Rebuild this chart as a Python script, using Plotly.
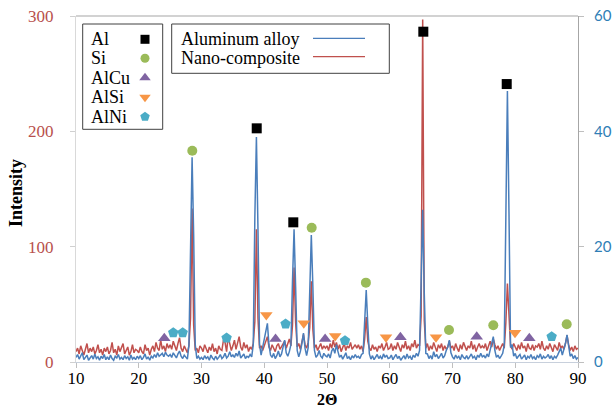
import numpy as np
import plotly.graph_objects as go

# ---------------- data ----------------
# 2-theta sample grid (degrees), 0.25 deg step
two_theta = np.round(np.arange(10, 90.001, 0.25), 2)

# Nano-composite intensity (left axis)
nano = [
    9, 12, 7, 14, 10, 6, 11, 16, 8, 12, 9, 13, 7, 10, 15, 8, 11, 6, 12, 9,
    13, 7, 10, 17, 8, 11, 6, 14, 9, 12, 16, 7, 10, 13, 6, 9, 15, 8, 11, 10,
    8, 13, 9, 7, 15, 10, 12, 6, 11, 14, 9, 17, 12, 10, 19, 11, 14, 9, 16, 12,
    15, 11, 18, 13, 10, 16, 21, 12, 9, 14, 11, 8, 14, 38, 133, 32, 10, 12, 8, 14,
    12, 9, 15, 11, 8, 13, 10, 16, 9, 12, 7, 14, 11, 10, 19, 17, 9, 22, 15, 10,
    14, 19, 11, 16, 22, 13, 10, 17, 12, 15, 9, 13, 11, 16, 35, 115, 38, 12, 14, 10,
    14, 17, 22, 13, 10, 15, 12, 9, 14, 16, 11, 13, 15, 18, 12, 16, 20, 14, 32, 82,
    34, 13, 16, 11, 18, 24, 15, 12, 17, 30, 70, 28, 12, 15, 10, 13, 16, 11, 14, 12,
    14, 10, 16, 12, 19, 13, 17, 11, 15, 9, 13, 16, 10, 14, 12, 17, 11, 13, 15, 12,
    15, 11, 14, 9, 20, 39, 18, 12, 10, 15, 11, 13, 9, 14, 12, 16, 10, 13, 17, 11,
    12, 16, 10, 14, 11, 17, 13, 9, 15, 12, 18, 11, 14, 10, 16, 13, 19, 12, 15, 14,
    40, 297, 36, 12, 16, 10, 14, 11, 17, 13, 9, 15, 12, 16, 10, 14, 11, 13, 18, 12,
    14, 10, 16, 12, 9, 15, 11, 17, 13, 10, 14, 12, 18, 11, 15, 9, 13, 16, 12, 14,
    12, 16, 10, 14, 18, 13, 20, 15, 11, 14, 10, 13, 16, 12, 34, 68, 42, 14, 11, 16,
    13, 10, 15, 11, 17, 12, 14, 9, 16, 12, 11, 15, 10, 14, 13, 16, 11, 18, 12, 10,
    14, 11, 16, 12, 9, 15, 13, 10, 17, 12, 14, 11, 16, 23, 15, 10, 13, 9, 14, 11,
    12,
]

# Aluminum alloy intensity (right axis)
alloy = [
    0.8, 1.3, 0.5, 1.0, 1.6, 0.4, 0.9, 1.2, 0.3, 0.7, 1.1, 0.5, 1.4, 0.6, 0.9, 0.3, 1.0, 0.6, 1.3, 0.4,
    0.9, 0.4, 1.2, 0.6, 0.3, 1.0, 0.7, 1.3, 0.5, 0.8, 0.4, 1.1, 0.6, 0.9, 0.3, 1.2, 0.5, 0.8, 0.4, 1.0,
    0.6, 1.1, 0.4, 0.8, 1.4, 0.5, 0.9, 0.3, 1.0, 0.7, 1.3, 0.8, 1.6, 1.0, 1.2, 1.5, 0.9, 1.7, 1.2, 1.0,
    1.3, 0.8, 1.6, 1.1, 0.7, 1.4, 1.9, 1.0, 0.6, 1.2, 0.9, 0.5, 3.0, 24, 35.5, 22, 3.0, 0.6, 1.0, 0.5,
    0.8, 0.4, 1.1, 0.6, 0.9, 0.3, 1.2, 0.7, 0.4, 1.0, 0.5, 0.8, 1.3, 0.6, 0.9, 1.5, 0.7, 1.0, 1.8, 0.9,
    1.2, 0.8, 1.5, 1.0, 1.9, 0.7, 1.1, 1.4, 0.6, 1.0, 0.8, 1.3, 0.9, 3.0, 25, 39, 23, 3.0, 1.2, 2.5,
    3.5, 5.2, 6.7, 3.0, 1.2, 0.8, 1.5, 0.6, 1.1, 1.9, 0.9, 1.4, 2.6, 3.8, 1.6, 1.0, 1.8, 3.0, 14, 23,
    13, 2.0, 0.9, 1.8, 3.2, 5.0, 2.4, 1.1, 2.5, 14, 22, 13, 2.0, 0.8, 1.2, 2.0, 1.0, 0.7, 1.5, 1.1,
    0.9, 1.4, 0.7, 1.9, 2.4, 1.5, 3.0, 1.8, 0.8, 1.2, 0.5, 1.0, 1.6, 0.6, 0.9, 0.4, 1.1, 0.7, 1.3, 0.8,
    1.0, 0.6, 1.3, 1.5, 7.0, 12.5, 6.5, 1.4, 0.5, 1.1, 0.4, 0.9, 1.3, 0.6, 1.0, 0.5, 1.4, 0.8, 1.2, 0.6,
    0.7, 1.2, 0.4, 0.9, 1.3, 0.6, 1.0, 0.3, 0.8, 1.1, 0.5, 1.4, 0.7, 1.0, 0.4, 1.2, 0.8, 1.5, 1.0, 2.0,
    14, 26.4, 12, 1.5, 1.4, 0.6, 1.1, 0.5, 1.8, 0.9, 1.3, 0.6, 1.0, 1.5, 0.7, 1.1, 2.0, 2.6, 3.8, 1.6,
    0.9, 0.5, 1.2, 0.7, 1.0, 0.4, 1.3, 0.8, 0.6, 1.1, 0.5, 0.9, 1.4, 0.7, 1.0, 0.4, 1.2, 0.8, 1.5, 0.9,
    1.1, 0.7, 1.4, 0.9, 2.2, 3.1, 4.4, 2.0, 0.8, 1.2, 0.6, 1.0, 1.5, 3.0, 28, 47, 26, 2.5, 3.0, 1.0,
    1.5, 0.6, 1.0, 1.3, 0.5, 0.9, 1.2, 0.4, 1.0, 0.7, 1.3, 0.6, 0.9, 0.4, 1.1, 0.8, 1.4, 0.5, 1.0, 0.7,
    0.9, 1.3, 0.6, 1.1, 0.4, 1.0, 0.7, 1.2, 1.8, 2.4, 1.2, 2.0, 3.2, 4.7, 2.8, 1.0, 1.4, 0.6, 1.1, 0.5,
    0.8,
]

# Phase markers (2-theta, left-axis intensity)
al_x = [38.8, 44.63, 65.35, 78.64]
al_y = [202.6, 121.1, 286.4, 241]
si_x = [28.53, 47.56, 56.2, 69.44, 76.5, 88.2]
si_y = [183.2, 116.4, 68.8, 27.7, 31.8, 32.7]
alcu_x = [24.07, 41.8, 49.7, 61.7, 73.86, 82.24]
alcu_y = [20.5, 19.9, 19.9, 21.4, 22, 20.5]
alsi_x = [40.33, 46.3, 51.3, 59.4, 67.37, 79.96]
alsi_y = [40.8, 33.6, 22.5, 21.4, 21.4, 25.4]
alni_x = [25.5, 27.0, 34.0, 43.4, 52.87, 85.8]
alni_y = [25.4, 25.4, 20.8, 33, 18.5, 22]

x_ticks = [10, 20, 30, 40, 50, 60, 70, 80, 90]
left_ticks = [0, 100, 200, 300]
right_ticks = [0, 20, 40, 60]

phase_names = ["Al", "Si", "AlCu", "AlSi", "AlNi"]
line_names = ["Aluminum alloy", "Nano-composite"]

# ---------------- styling ----------------
BLUE = "#4A7EBB"
RED = "#C0504D"
C_AL, C_SI, C_CU, C_SIA, C_NI = "#000000", "#9BBB59", "#8064A2", "#F79646", "#4BACC6"
SERIF = "Liberation Serif"

W, H = 615, 412
PL, PR, PT, PB = 76, 578, 16, 362


def px(x):
    return (x - PL) / (PR - PL)


def py(y):
    return (PB - y) / (PB - PT)


assert len(nano) == len(two_theta) and len(alloy) == len(two_theta)

fig = go.Figure()
fig.add_trace(go.Scatter(x=two_theta, y=nano, mode="lines", name=line_names[1],
                         line=dict(color=RED, width=1.5), yaxis="y"))
fig.add_trace(go.Scatter(x=two_theta, y=alloy, mode="lines", name=line_names[0],
                         line=dict(color=BLUE, width=1.5), yaxis="y2"))

phases = [
    (al_x, al_y, "square", C_AL, 10),
    (si_x, si_y, "circle", C_SI, 10),
    (alcu_x, alcu_y, "triangle-up", C_CU, 11),
    (alsi_x, alsi_y, "triangle-down", C_SIA, 11),
    (alni_x, alni_y, "pentagon", C_NI, 11),
]
for (xs, ys, sym, col, sz), nm in zip(phases, phase_names):
    fig.add_trace(go.Scatter(x=xs, y=ys, mode="markers", name=nm, yaxis="y3",
                             xaxis="x",
                             marker=dict(symbol=sym, color=col, size=sz, opacity=1,
                                         line=dict(width=0)),
                             cliponaxis=False))

# legend markers on a pixel-mapped helper axis
leg_y = [39.3, 58.3, 77.7, 97.3, 116.7]
fig.add_trace(go.Scatter(
    x=[145] * 5, y=leg_y, mode="markers", xaxis="x2", yaxis="y4", showlegend=False,
    marker=dict(symbol=[p[2] for p in phases], color=[p[3] for p in phases],
                size=[9, 9, 10, 10, 10], opacity=1, line=dict(width=0)),
    cliponaxis=False, hoverinfo="skip"))

shapes = [
    # top frame line
    dict(type="line", xref="paper", yref="paper", x0=0, x1=1, y0=1, y1=1,
         line=dict(color="#A6A6A6", width=1.2)),
    # phase legend box
    dict(type="rect", xref="paper", yref="paper", x0=px(82.7), x1=px(162.7),
         y0=py(24), y1=py(129.3), line=dict(color="#404040", width=1),
         fillcolor="white", layer="below"),
    # line legend box
    dict(type="rect", xref="paper", yref="paper", x0=px(171.7), x1=px(389.3),
         y0=py(24), y1=py(73.3), line=dict(color="#404040", width=1),
         fillcolor="white", layer="below"),
    dict(type="line", xref="paper", yref="paper", x0=px(313), x1=px(365),
         y0=py(38.3), y1=py(38.3), line=dict(color=BLUE, width=1.2)),
    dict(type="line", xref="paper", yref="paper", x0=px(313), x1=px(365),
         y0=py(56.7), y1=py(56.7), line=dict(color=RED, width=1.2)),
]

annotations = []
for nm, yy in zip(phase_names, leg_y):
    annotations.append(dict(text=nm, xref="paper", yref="paper", x=px(88.5), y=py(yy),
                            xanchor="left", yanchor="middle", showarrow=False,
                            font=dict(family=SERIF, size=18, color="black")))
for nm, yy in zip(line_names, [39.3, 58.3]):
    annotations.append(dict(text=nm, xref="paper", yref="paper", x=px(178.5), y=py(yy),
                            xanchor="left", yanchor="middle", showarrow=False,
                            font=dict(family=SERIF, size=18, color="black")))
annotations.append(dict(text="<b>Intensity</b>", xref="paper", yref="paper", x=px(16),
                        y=py(193), textangle=-90, showarrow=False, xanchor="center",
                        yanchor="middle", font=dict(family=SERIF, size=18, color="black")))
annotations.append(dict(text="<b>2\u0398</b>", xref="paper", yref="paper", x=px(327),
                        y=py(399), showarrow=False, xanchor="center", yanchor="middle",
                        font=dict(family=SERIF, size=16, color="black")))

fig.update_layout(
    width=W, height=H,
    margin=dict(l=PL, r=W - PR, t=PT, b=H - PB, autoexpand=False),
    paper_bgcolor="white", plot_bgcolor="white",
    showlegend=False,
    xaxis=dict(range=[10, 90], tickvals=x_ticks, ticks="outside", ticklen=5,
               tickcolor="#BFBFBF", showline=True, linecolor="#C8D0DC", linewidth=1,
               showgrid=False, zeroline=False, ticklabelstandoff=-4, automargin=False,
               tickfont=dict(family=SERIF, size=17, color="black")),
    yaxis=dict(range=[0, 300], tickvals=left_ticks, ticks="outside", ticklen=5,
               tickcolor="#D0D0D0", showline=True, linecolor="#D9D9D9", showgrid=False,
               zeroline=False, ticklabelstandoff=13, automargin=False,
               tickfont=dict(family=SERIF, size=17, color="#B8504C")),
    yaxis2=dict(range=[0, 60], tickvals=right_ticks, overlaying="y", side="right",
                ticks="outside", ticklen=5, tickcolor="#BFBFBF", showline=True,
                linecolor="#A6A6A6", showgrid=False, zeroline=False, ticklabelstandoff=7,
                automargin=False,
                tickfont=dict(family="Lato", size=15, color="#2F7EB6")),
    yaxis3=dict(range=[0, 300], overlaying="y", visible=False, automargin=False),
    xaxis2=dict(range=[PL, PR], overlaying="x", visible=False, automargin=False),
    yaxis4=dict(range=[PB, PT], overlaying="y", visible=False, automargin=False),
    shapes=shapes,
    annotations=annotations,
)

fig.write_html(
    "out.html",
    config={"displayModeBar": False},
    post_script="document.body.style.margin='0';document.body.style.overflow='hidden';",
)
